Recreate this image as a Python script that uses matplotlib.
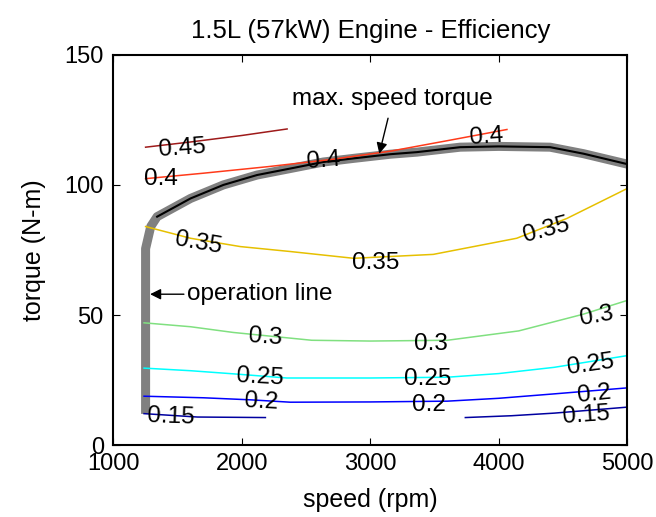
import matplotlib
matplotlib.use("Agg")
import matplotlib.pyplot as plt

plt.rcParams["font.family"] = ["Liberation Sans", "DejaVu Sans"]

# contour levels (speed rpm, torque N-m)
c045_x = [1250, 1600, 2000, 2352]
c045_y = [114.5, 116.5, 119.0, 121.5]

c04_x = [1250, 1700, 2200, 2700, 3160, 3600, 4064]
c04_y = [102.4, 104.5, 107.0, 109.8, 113.0, 117.0, 121.3]

c035_x = [1250, 1600, 1988, 2377, 2870, 3490, 4140, 4530, 5000]
c035_y = [84.0, 79.5, 76.3, 74.4, 71.8, 73.3, 79.5, 87.1, 98.6]

c03_x = [1238, 1600, 1933, 2544, 3000, 3600, 4156, 4657, 5000]
c03_y = [47.0, 45.5, 43.3, 40.3, 40.0, 40.3, 43.9, 50.3, 55.6]

c025_x = [1238, 1600, 1933, 2350, 3000, 3600, 4000, 4432, 5000]
c025_y = [29.6, 28.6, 27.4, 25.8, 25.8, 26.1, 27.5, 29.9, 34.4]

c02_x = [1238, 1700, 2071, 2377, 3000, 3600, 4000, 4432, 5000]
c02_y = [18.8, 18.2, 17.4, 16.5, 16.6, 16.9, 18.0, 19.7, 22.0]

c015a_x = [1238, 1654, 2183]
c015a_y = [12.1, 10.8, 10.6]
c015b_x = [3740, 4100, 4432, 5000]
c015b_y = [10.6, 11.3, 12.3, 14.6]

# max torque curve and operation line
maxt_x = [1340, 1600, 1856, 2118, 2377, 2634, 2870, 3156, 3363, 3700, 4000, 4400, 4660, 5000]
maxt_y = [87.8, 94.8, 100.0, 103.8, 106.3, 108.8, 110.2, 111.8, 112.6, 114.5, 114.8, 114.5, 112.0, 108.0]

op_x = [1250, 1250, 1290, 1340, 1600, 1856, 2118, 2377, 2634, 2870, 3156, 3363, 3700, 4000, 4400, 4660, 5000]
op_y = [12.0, 75.5, 84.0, 87.8, 94.8, 100.0, 103.8, 106.3, 108.8, 110.2, 111.8, 112.6, 114.5, 114.8, 114.5, 112.0, 108.0]

# contour labels: text, x, y, rotation
lbl_txt = ["0.45", "0.4", "0.4", "0.4", "0.35", "0.35", "0.35",
           "0.3", "0.3", "0.3", "0.25", "0.25", "0.25",
           "0.2", "0.2", "0.2", "0.15", "0.15"]
lbl_x = [1534, 1366, 2634, 3908, 1660, 3040, 4370,
         2183, 3475, 4766, 2140, 3447, 4712,
         2152, 3460, 4740, 1450, 4680]
lbl_y = [114.0, 102.4, 109.4, 118.3, 77.5, 70.0, 82.5,
         41.3, 39.0, 49.6, 26.0, 25.6, 31.0,
         16.5, 15.5, 19.5, 10.8, 11.5]
lbl_rot = [4, 0, 4, 4, -10, 0, 15,
           -4, 0, 10, -3, 0, 8,
           -3, 0, 6, -2, 4]

fig = plt.figure(figsize=(6.56, 5.17), dpi=100)
ax = fig.add_axes([0.173, 0.139, 0.783, 0.755])

ax.plot(op_x, op_y, color="#808080", lw=6.5, solid_capstyle="butt", solid_joinstyle="round")
ax.plot(maxt_x, maxt_y, color="black", lw=1.5)

ax.plot(c045_x, c045_y, color="#9e1a1a", lw=1.1)
ax.plot(c04_x, c04_y, color="#ff3a1a", lw=1.1)
ax.plot(c035_x, c035_y, color="#e6c000", lw=1.1)
ax.plot(c03_x, c03_y, color="#80e080", lw=1.1)
ax.plot(c025_x, c025_y, color="#00ffff", lw=1.1)
ax.plot(c02_x, c02_y, color="#0000ff", lw=1.1)
ax.plot(c015a_x, c015a_y, color="#0000a0", lw=1.1)
ax.plot(c015b_x, c015b_y, color="#0000a0", lw=1.1)

for t, x, y, r in zip(lbl_txt, lbl_x, lbl_y, lbl_rot):
    ax.text(x, y, t, fontsize=17.5, rotation=r, ha="center", va="center",
            rotation_mode="anchor")

ax.annotate("max. speed torque", xy=(3070, 112), xytext=(3175, 133),
            fontsize=17.5, ha="center", va="center",
            arrowprops=dict(arrowstyle="-|>", color="black", lw=1,
                            mutation_scale=16, shrinkA=4, shrinkB=0))
ax.annotate("operation line", xy=(1285, 58), xytext=(1570, 58),
            fontsize=17.5, ha="left", va="center",
            arrowprops=dict(arrowstyle="-|>", color="black", lw=1,
                            mutation_scale=16, shrinkA=0, shrinkB=0))

ax.set_xlim(1000, 5000)
ax.set_ylim(0, 150)
ax.set_xticks([1000, 2000, 3000, 4000, 5000])
ax.set_yticks([0, 50, 100, 150])
ax.tick_params(direction="in", top=True, right=True, labelsize=17, length=5)
ax.tick_params(axis="x", pad=6)
ax.tick_params(axis="y", pad=7)
for s in ax.spines.values():
    s.set_linewidth(1.5)

ax.set_title("1.5L (57kW) Engine - Efficiency", fontsize=18.5, pad=12)
ax.set_xlabel("speed (rpm)", fontsize=18, labelpad=9)
ax.set_ylabel("torque (N-m)", fontsize=18, labelpad=13)

fig.savefig("out.png", dpi=100)
